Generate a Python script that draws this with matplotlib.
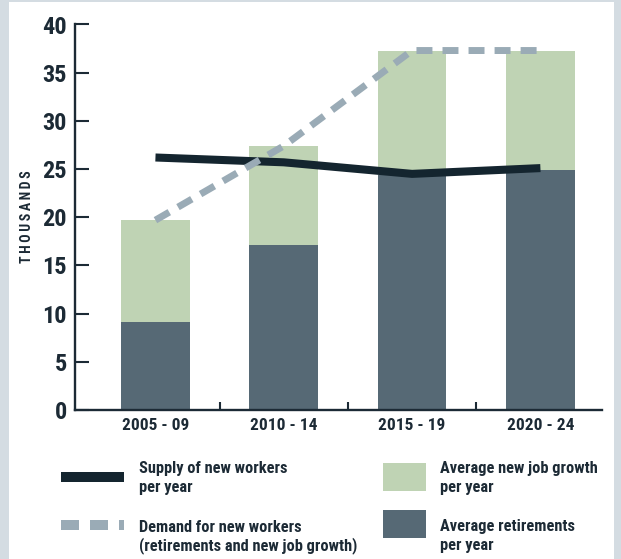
import matplotlib
matplotlib.use("Agg")
import matplotlib.pyplot as plt
from matplotlib import font_manager
from matplotlib.patches import Rectangle
from matplotlib.lines import Line2D

# data (thousands)
periods = ["2005 - 09", "2010 - 14", "2015 - 19", "2020 - 24"]
retirements = [9.1, 17.1, 24.4, 24.9]
job_growth = [10.6, 10.3, 12.9, 12.4]          # stacked on top of retirements
supply = [26.2, 25.7, 24.5, 25.1]
demand = [19.7, 27.4, 37.3, 37.3]
y_ticks = [0, 5, 10, 15, 20, 25, 30, 35, 40]

DARK = "#566975"
GREEN = "#bfd3b4"
SUPPLY = "#14252f"
DEMAND = "#9aabb6"
TEXT = "#1c2a35"
BORDER = "#d4dce2"

# pick a narrow font if one is installed
installed = {(f.name, str(f.stretch)) for f in font_manager.fontManager.ttflist}
names = {n for n, _ in installed}
stretch = "normal"
if "Liberation Sans Narrow" in names:
    FONT = ["Liberation Sans Narrow", "DejaVu Sans"]
elif "Roboto Condensed" in names:
    FONT = ["Roboto Condensed", "DejaVu Sans"]
elif any(n == "DejaVu Sans" and s in ("condensed", "semi-condensed")
         for n, s in installed):
    FONT = ["DejaVu Sans"]
    stretch = "condensed"
else:
    FONT = ["Liberation Sans", "DejaVu Sans"]
plt.rcParams["font.family"] = FONT
plt.rcParams["font.weight"] = "bold"
plt.rcParams["font.stretch"] = stretch

W, H = 621, 559
fig = plt.figure(figsize=(W / 100, H / 100), dpi=100)
fig.patch.set_facecolor(BORDER)
fig.add_artist(Rectangle((9 / W, 0), (614 - 9) / W, (H - 2) / H,
                         transform=fig.transFigure, facecolor="white",
                         edgecolor="none", zorder=-10))

ax = fig.add_axes([75 / W, (H - 410) / H, (602 - 75) / W, (410 - 24.5) / H])
ax.set_facecolor("none")

x = list(range(len(periods)))
ax.bar(x, retirements, width=0.536, color=DARK, zorder=2)
ax.bar(x, job_growth, width=0.536, bottom=retirements, color=GREEN, zorder=2)
ax.plot(x, supply, color=SUPPLY, lw=5.8, solid_capstyle="butt", zorder=3)
ax.plot(x, demand, color=DEMAND, lw=5.0, dashes=(2.3, 1.45),
        dash_capstyle="butt", zorder=4)

ax.set_xlim(-0.627, 3.48)
ax.set_ylim(0, 40)
for s in ["top", "right"]:
    ax.spines[s].set_visible(False)
for s in ["left", "bottom"]:
    ax.spines[s].set_color(TEXT)
    ax.spines[s].set_linewidth(1.7)

ax.set_yticks(y_ticks)
ax.set_yticklabels([str(v) for v in y_ticks])
ax.tick_params(axis="y", direction="in", length=10, width=1.5, color=TEXT,
               pad=6, labelsize=17.5, labelcolor=TEXT)
ax.set_xticks(x)
ax.set_xticklabels(periods)
ax.tick_params(axis="x", which="major", length=0, pad=6, labelsize=12.5,
               labelcolor=TEXT)
ax.set_xticks([0.5, 1.5, 2.5], minor=True)
ax.tick_params(axis="x", which="minor", direction="in", length=6, width=1.5,
               color=TEXT)

fig.text(27 / W, 1 - 217 / H, "\u2009".join("THOUSANDS"),
         rotation=90, ha="center", va="center", fontsize=10,
         color=TEXT)

# legend drawn in figure pixel space
lg = fig.add_axes([0, 0, 1, 1])
lg.set_xlim(0, W)
lg.set_ylim(H, 0)
lg.axis("off")
lg.add_line(Line2D([61, 124], [477, 477], color=SUPPLY, lw=7.2,
                   solid_capstyle="butt"))
lg.add_line(Line2D([61, 124], [525, 525], color=DEMAND, lw=7.2,
                   dashes=(1.8, 1.1), dash_capstyle="butt"))
lg.add_patch(Rectangle((383, 463), 43, 28, facecolor=GREEN, edgecolor="none"))
lg.add_patch(Rectangle((383, 510), 43, 28, facecolor=DARK, edgecolor="none"))

labels = [
    (139, 473, ["Supply of new workers", "per year"]),
    (139, 531.5, ["Demand for new workers", "(retirements and new job growth)"]),
    (440, 473, ["Average new job growth", "per year"]),
    (440, 531.5, ["Average retirements", "per year"]),
]
for lx, ly, lines in labels:
    for i, txt in enumerate(lines):
        lg.text(lx, ly + 18.7 * i, txt, ha="left", va="baseline",
                fontsize=11.8, color=TEXT)

fig.savefig("out.png", dpi=100, facecolor=fig.get_facecolor())
